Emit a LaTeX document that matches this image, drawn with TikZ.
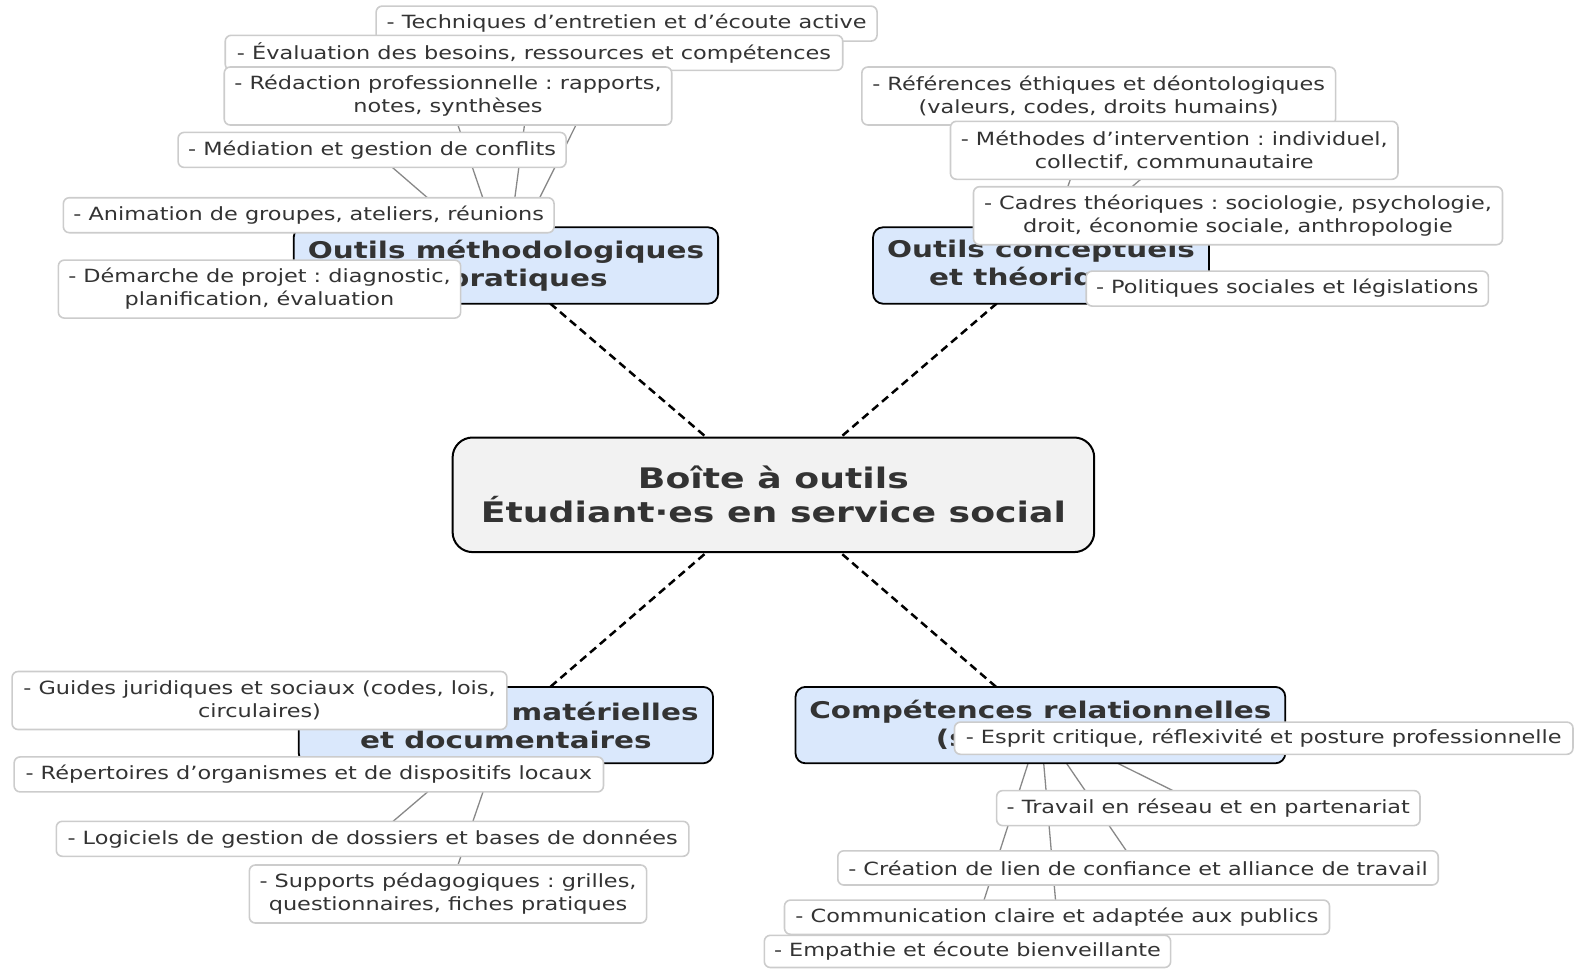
\documentclass[tikz,border=0pt]{standalone}
\usepackage{fontspec}
\newfontfamily\leaffont[FakeStretch=1.23]{DejaVu Sans}
\newfontfamily\headfont[FakeStretch=1.28]{DejaVu Sans}
\definecolor{txt}{HTML}{333333}
\definecolor{leafedge}{HTML}{CCCCCC}
\definecolor{linkgray}{HTML}{888888}
\definecolor{branchfill}{HTML}{DAE8FC}
\definecolor{rootfill}{HTML}{F2F2F2}
\pgfdeclarelayer{edges}
\pgfsetlayers{edges,main}
\frenchspacing
\tikzset{
  root/.style={draw=black, line width=2pt, fill=rootfill, rounded corners=20pt, text=txt, align=center,
    font=\headfont\bfseries\fontsize{28.3}{34}\selectfont, inner sep=0pt},
  branch/.style={draw=black, line width=1.8pt, fill=branchfill, rounded corners=10pt, text=txt, align=center,
    font=\headfont\bfseries\fontsize{23}{28}\selectfont, inner sep=0pt, minimum height=76.4pt},
  leaf/.style={draw=leafedge, line width=1.6pt, fill=white, rounded corners=6pt, text=txt, align=center,
    font=\leaffont\fontsize{18.2}{23}\selectfont, inner sep=0pt, minimum height=35pt},
  leaftwo/.style={leaf, minimum height=58pt},
  spoke/.style={draw=black, line width=2.5pt, dash pattern=on 8pt off 5pt},
  twig/.style={draw=linkgray, line width=1.3pt},
}
\begin{document}
\begin{tikzpicture}[x=1pt,y=-1pt]
\useasboundingbox (0,0) rectangle (1577,969);
% root
\node[root, minimum width=641.6pt, minimum height=114.6pt] (root) at (773.4,494.8)
  {Boîte à outils\\Étudiant·es en service social};
% branches
\node[branch, minimum width=424.4pt] (bm) at (505.9,265.5) {Outils méthodologiques\\et pratiques};
\node[branch, minimum width=335.9pt] (bc) at (1041,265.5) {Outils conceptuels\\et théoriques};
\node[branch, minimum width=414.3pt] (br) at (505.9,725.1) {Ressources matérielles\\et documentaires};
\node[branch, minimum width=489.8pt] (bs) at (1040.4,725.1) {Compétences relationnelles\\(savoir-être)};
% leaves: methodological
\node[leaf, minimum width=500.9pt] (m1) at (626.6,23.6) {- Techniques d’entretien et d’écoute active};
\node[leaf, minimum width=617.5pt] (m2) at (534,52.8) {- Évaluation des besoins, ressources et compétences};
\node[leaftwo, minimum width=447.5pt] (m3) at (448,96) {- Rédaction professionnelle : rapports,\\notes, synthèses};
\node[leaf, minimum width=388pt] (m4) at (372.1,149.9) {- Médiation et gestion de conflits};
\node[leaf, minimum width=490.7pt] (m5) at (308.7,215.2) {- Animation de groupes, ateliers, réunions};
\node[leaftwo, minimum width=402.3pt] (m6) at (259.5,289.1) {- Démarche de projet : diagnostic,\\planification, évaluation};
% leaves: conceptual
\node[leaftwo, minimum width=473.7pt] (c1) at (1098.7,96) {- Références éthiques et déontologiques\\(valeurs, codes, droits humains)};
\node[leaftwo, minimum width=447.5pt] (c2) at (1174.2,150.3) {- Méthodes d’intervention : individuel,\\collectif, communautaire};
\node[leaftwo, minimum width=529pt] (c3) at (1238,215.7) {- Cadres théoriques : sociologie, psychologie,\\droit, économie sociale, anthropologie};
\node[leaf, minimum width=402.2pt] (c4) at (1287.3,288.6) {- Politiques sociales et législations};
% leaves: resources
\node[leaftwo, minimum width=494.8pt] (r1) at (259.5,700.5) {- Guides juridiques et sociaux (codes, lois,\\circulaires)};
\node[leaf, minimum width=589.3pt] (r2) at (308.8,774.4) {- Répertoires d’organismes et de dispositifs locaux};
\node[leaf, minimum width=632.6pt] (r3) at (372.6,838.8) {- Logiciels de gestion de dossiers et bases de données};
\node[leaftwo, minimum width=397.3pt] (r4) at (448,894) {- Supports pédagogiques : grilles,\\questionnaires, fiches pratiques};
% leaves: relational
\node[leaf, minimum width=618.5pt, minimum height=32.2pt] (s1) at (1263.7,738.2) {- Esprit critique, réflexivité et posture professionnelle};
\node[leaf, minimum width=423.4pt] (s2) at (1208.3,808.1) {- Travail en réseau et en partenariat};
\node[leaf, minimum width=600.4pt, minimum height=34.2pt] (s3) at (1138,867.9) {- Création de lien de confiance et alliance de travail};
\node[leaf, minimum width=545pt, minimum height=34.2pt] (s4) at (1057,917.2) {- Communication claire et adaptée aux publics};
\node[leaf, minimum width=406.3pt, minimum height=32.2pt] (s5) at (967.5,951.4) {- Empathie et écoute bienveillante};
% connectors
\begin{pgfonlayer}{edges}
  \foreach \b in {bm,bc,br,bs} \draw[spoke] (root.center) -- (\b.center);
  \foreach \l in {m1,m2,m3,m4,m5,m6} \draw[twig] (bm.center) -- (\l.center);
  \foreach \l in {c1,c2,c3,c4} \draw[twig] (bc.center) -- (\l.center);
  \foreach \l in {r1,r2,r3,r4} \draw[twig] (br.center) -- (\l.center);
  \foreach \l in {s1,s2,s3,s4,s5} \draw[twig] (bs.center) -- (\l.center);
\end{pgfonlayer}
\end{tikzpicture}
\end{document}
